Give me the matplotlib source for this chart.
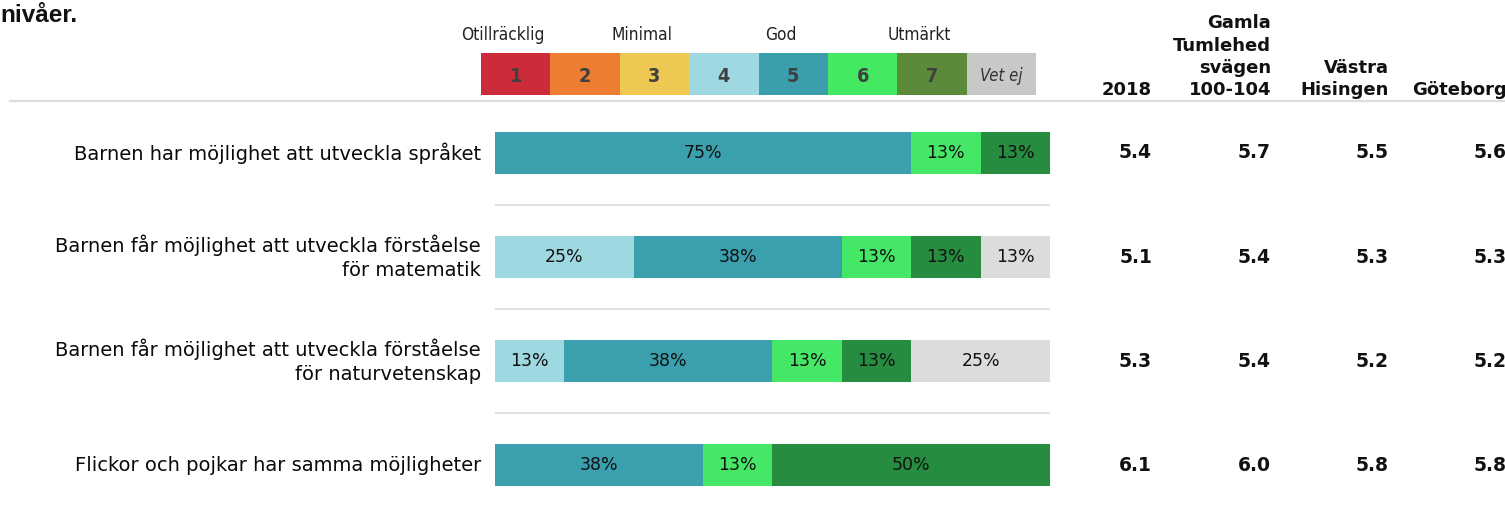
import matplotlib
matplotlib.use("Agg")
import matplotlib.pyplot as plt
from matplotlib.lines import Line2D
from matplotlib import font_manager as fm
import math

W, H = 1505, 512

# ---------------- data ----------------
scale_codes = ['1', '2', '3', '4', '5', '6', '7', 'Vet ej']
scale_names = ['Otillräcklig', 'Minimal', 'God', 'Utmärkt']   # over codes 1,3,5,7
legend_colors = ['#CC2B3A', '#ED7D31', '#EDC853', '#9ED8E0', '#3A9EAD', '#43E960', '#5A8A3A', '#C8C8C8']
bar_colors = ['#CC2B3A', '#ED7D31', '#EDC853', '#9ED8E0', '#3BA0AD', '#44E866', '#268C3F', '#DCDCDC']

questions = [
    'Barnen har möjlighet att utveckla språket',
    'Barnen får möjlighet att utveckla förståelse\nför matematik',
    'Barnen får möjlighet att utveckla förståelse\nför naturvetenskap',
    'Flickor och pojkar har samma möjligheter',
]
shares = [
    [0, 0, 0, 0.0, 75.0, 12.5, 12.5, 0.0],
    [0, 0, 0, 25.0, 37.5, 12.5, 12.5, 12.5],
    [0, 0, 0, 12.5, 37.5, 12.5, 12.5, 25.0],
    [0, 0, 0, 0.0, 37.5, 12.5, 50.0, 0.0],
]

table_headers = ['2018', 'Gamla\nTumlehed\nsvägen\n100-104', 'Västra\nHisingen', 'Göteborg']
avg_2018 = [5.4, 5.1, 5.3, 6.1]
avg_unit = [5.7, 5.4, 5.4, 6.0]
avg_area = [5.5, 5.3, 5.2, 5.8]
avg_city = [5.6, 5.3, 5.2, 5.8]
table_values = [avg_2018, avg_unit, avg_area, avg_city]

title_tail = 'nivåer.'

# ---------------- pick a condensed font if available ----------------
cond_kw = dict(family=['DejaVu Sans'])
cond_scale = 0.78
try:
    p = fm.findfont(fm.FontProperties(family='DejaVu Sans', stretch='condensed'), fallback_to_default=True)
    if 'ondensed' in p:
        cond_kw = dict(family=['DejaVu Sans'], fontstretch='condensed')
        cond_scale = 0.92
except Exception:
    pass

# ---------------- figure ----------------
fig = plt.figure(figsize=(W / 100, H / 100), dpi=100)
fig.patch.set_facecolor('white')


def fx(px):
    return px / W


def fy(py):
    return 1 - py / H


# title fragment (cut off at left)
fig.text(fx(78), fy(15), title_tail, ha='right', va='center', fontsize=17.5,
         fontweight='bold', family='Liberation Sans', color='#111111')

# header rule
fig.add_artist(Line2D([fx(10), 1.0], [fy(101), fy(101)], color='#DDDDDD', lw=1.6))

# ---------------- legend strip ----------------
lax = fig.add_axes([fx(481), fy(95), fx(555), 42 / H])
lax.bar(range(len(scale_codes)), [1] * len(scale_codes), width=1.0, bottom=0,
        color=legend_colors, edgecolor='none')
lax.set_xlim(-0.5, len(scale_codes) - 0.5)
lax.set_ylim(0, 1)
lax.axis('off')
for i, code in enumerate(scale_codes):
    if code == 'Vet ej':
        lax.text(i, 0.45, code, ha='center', va='center', fontsize=13 * cond_scale,
                 style='italic', color='#333333', **cond_kw)
    else:
        lax.text(i, 0.45, code, ha='center', va='center', fontsize=15.5 * cond_scale,
                 fontweight='bold', color='#404040', **cond_kw)
for k, name in enumerate(scale_names):
    lax.text(2 * k - 0.18, 1.42, name, ha='center', va='center', fontsize=13.5 * cond_scale,
             color='#222222', clip_on=False, **cond_kw)

# ---------------- bars ----------------
ax = fig.add_axes([fx(495), fy(517), fx(555), 416 / H])
ax.set_xlim(0, 100)
ax.set_ylim(len(questions) - 0.5, -0.5)
ax.axis('off')
bar_h = 0.40
for r, row in enumerate(shares):
    left = 0.0
    for c, v in enumerate(row):
        if v > 0:
            ax.barh(r, v, left=left, height=bar_h, color=bar_colors[c], edgecolor='none')
            ax.text(left + v / 2, r, f'{int(math.floor(v + 0.5))}%', ha='center', va='center',
                    fontsize=12.5, color='#111111', family='DejaVu Sans')
        left += v
for r in range(len(questions) - 1):
    ax.axhline(r + 0.5, color='#DDDDDD', lw=1.3)

# question labels
for r, q in enumerate(questions):
    ypix = 101 + 52 + 104.2 * r
    fig.text(fx(481), fy(ypix), q, ha='right', va='center', multialignment='right',
             fontsize=14, color='#0A0A0A', family='DejaVu Sans', linespacing=1.3)

# ---------------- table ----------------
col_right = [1152, 1271, 1389, 1507]
for j, hdr in enumerate(table_headers):
    fig.text(fx(col_right[j]), fy(99), hdr, ha='right', va='bottom', multialignment='right',
             fontsize=13, fontweight='bold', family='DejaVu Sans', color='#111111',
             linespacing=1.3)
    for r, v in enumerate(table_values[j]):
        ypix = 101 + 52 + 104.2 * r
        fig.text(fx(col_right[j]), fy(ypix), f'{v:.1f}', ha='right', va='center',
                 fontsize=13.5, fontweight='bold', family='DejaVu Sans',
                 color='#111111')

fig.savefig('out.png', dpi=100, facecolor='white')
